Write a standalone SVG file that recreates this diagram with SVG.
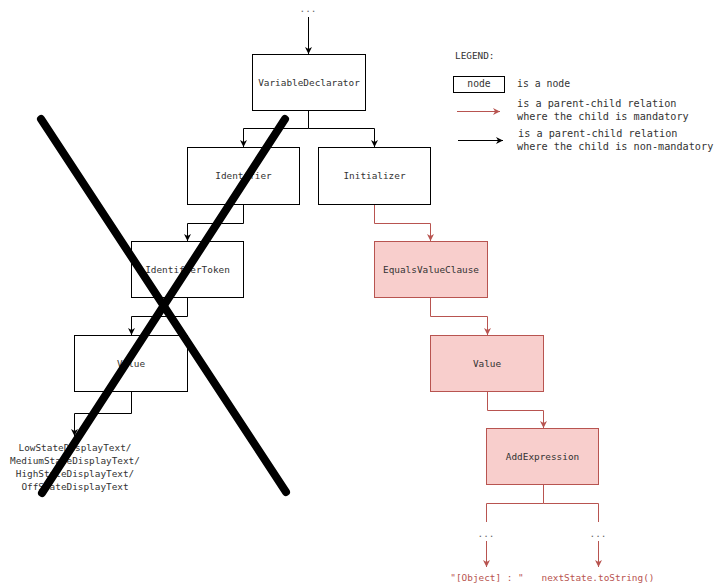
<svg xmlns="http://www.w3.org/2000/svg" width="715" height="587" viewBox="0 0 715 587">
<style>
text{font-family:"DejaVu Sans Mono","Liberation Mono",monospace;font-size:9.4px;fill:#333;}
.c{text-anchor:middle;}
.lg{font-size:10.2px;}
.bn rect{fill:#fff;stroke:#000;stroke-width:1;}
.rn rect{fill:#f8cecc;stroke:#b85450;stroke-width:1;}
.bl{fill:none;stroke:#000;stroke-width:1;marker-end:url(#ab);}
.rl{fill:none;stroke:#b85450;stroke-width:1;marker-end:url(#ar);}
.rlp{fill:none;stroke:#b85450;stroke-width:1;}
.rt{fill:#b85450;}
.x{stroke:#000;stroke-width:8;stroke-linecap:round;}
</style>
<defs>
<marker id="ab" viewBox="0 0 10 10" refX="10" refY="5" markerWidth="7" markerHeight="7" markerUnits="userSpaceOnUse" orient="auto"><path d="M0,0 L10,5 L0,10 L3,5 Z" fill="#000"/></marker>
<marker id="ar" viewBox="0 0 10 10" refX="10" refY="5" markerWidth="7" markerHeight="7" markerUnits="userSpaceOnUse" orient="auto"><path d="M0,0 L10,5 L0,10 L3,5 Z" fill="#b85450"/></marker>
</defs>

<g id="connectors">
<path class="bl" d="M308.5,17 V54"/>
<path class="bl" d="M308.5,110 V128.5 H243.5 V147"/>
<path class="bl" d="M308.5,128.5 H374.5 V147"/>
<path class="bl" d="M243.5,204 V223.5 H187.5 V241"/>
<path class="rl" d="M374.5,204 V223.5 H430.5 V241"/>
<path class="bl" d="M187.5,297 V316.5 H131.5 V335"/>
<path class="rl" d="M430.5,297 V316.5 H487.5 V335"/>
<path class="bl" d="M131.5,391 V413.5 H74.5 V436"/>
<path class="rl" d="M487.5,391 V410.5 H543.5 V428"/>
<path class="rlp" d="M543.5,484 V503.5 H486.5 V522"/>
<path class="rlp" d="M543.5,503.5 H598.5 V522"/>
<path class="rl" d="M486.5,541 V567"/>
<path class="rl" d="M598.5,541 V567"/>
</g>

<text class="c" x="308" y="12" style="fill:#666">...</text>

<g id="n-variabledeclarator" class="bn"><rect x="252.5" y="54.5" width="113" height="56"/><text class="c" x="309" y="86">VariableDeclarator</text></g>
<g id="n-identifier" class="bn"><rect x="187.5" y="147.5" width="112" height="57"/><text class="c" x="243.5" y="179">Identifier</text></g>
<g id="n-initializer" class="bn"><rect x="318.5" y="147.5" width="112" height="57"/><text class="c" x="374.5" y="179">Initializer</text></g>
<g id="n-identifiertoken" class="bn"><rect x="131.5" y="241.5" width="112" height="56"/><text class="c" x="187.5" y="273">IdentifierToken</text></g>
<g id="n-equalsvalueclause" class="rn"><rect x="374.5" y="241.5" width="113" height="56"/><text class="c" x="431" y="273">EqualsValueClause</text></g>
<g id="n-value-left" class="bn"><rect x="74.5" y="335.5" width="113" height="56"/><text class="c" x="131" y="367">Value</text></g>
<g id="n-value-right" class="rn"><rect x="430.5" y="335.5" width="113" height="56"/><text class="c" x="487" y="367">Value</text></g>
<g id="n-addexpression" class="rn"><rect x="486.5" y="428.5" width="112" height="56"/><text class="c" x="542.5" y="460">AddExpression</text></g>

<g id="n-displaytext">
<text class="c" x="75" y="451">LowStateDisplayText/</text>
<text class="c" x="75" y="464">MediumStateDisplayText/</text>
<text class="c" x="75" y="477">HighStateDisplayText/</text>
<text class="c" x="75" y="490">OffStateDisplayText</text>
</g>

<g id="n-dots-left"><text class="c" x="486" y="537" style="fill:#666">...</text></g>
<g id="n-dots-right"><text class="c" x="598" y="537" style="fill:#666">...</text></g>
<g id="n-object"><text class="c rt" x="487" y="581">"[Object] : "</text></g>
<g id="n-tostring"><text class="c rt" x="598" y="581">nextState.toString()</text></g>

<g id="legend">
<text x="455" y="59">LEGEND:</text>
<rect x="453.5" y="76.5" width="51" height="16" fill="#fff" stroke="#000"/>
<text class="c" x="479" y="87" style="font-size:9.7px">node</text>
<text x="517" y="87" style="font-size:9.8px">is a node</text>
<path class="rl" d="M457,111.5 H500"/>
<text class="lg" x="517" y="107">is a parent-child relation</text>
<text class="lg" x="517" y="120">where the child is mandatory</text>
<path class="bl" d="M458,140.5 H503"/>
<text class="lg" x="518" y="137">is a parent-child relation</text>
<text class="lg" x="517" y="150">where the child is non-mandatory</text>
</g>

<g id="cross">
<line class="x" x1="41" y1="119" x2="286" y2="492"/>
<line class="x" x1="285" y1="119" x2="42" y2="493"/>
</g>
</svg>
